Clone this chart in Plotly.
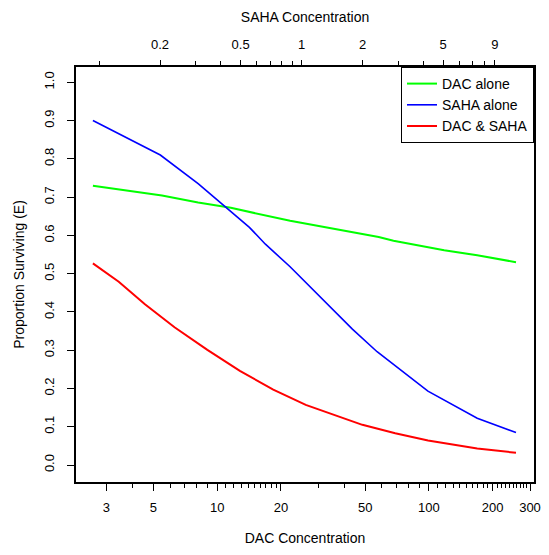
import plotly.graph_objects as go

# Survival curves: proportion surviving vs DAC concentration (log scale)
green_dac = [2.59, 5.49, 8.13, 11.6, 22.1, 57.9, 68.0, 118.0, 169.0, 257.6]
green_surv = [0.730, 0.704, 0.686, 0.672, 0.638, 0.596, 0.586, 0.561, 0.548, 0.530]

blue_dac = [2.59, 5.39, 8.13, 11.2, 14.2, 16.9, 22.1, 43.5, 56.9, 98.9, 169.0, 257.6]
blue_surv = [0.900, 0.810, 0.735, 0.671, 0.621, 0.577, 0.518, 0.355, 0.296, 0.193, 0.122, 0.085]

red_dac = [2.59, 3.43, 4.56, 6.29, 8.99, 12.8, 18.4, 26.2, 48.5, 69.3, 99.0, 169.0, 257.6]
red_surv = [0.527, 0.479, 0.420, 0.360, 0.301, 0.246, 0.197, 0.157, 0.105, 0.083, 0.064, 0.043, 0.032]

series_names = ["DAC alone", "SAHA alone", "DAC & SAHA"]
series_colors = ["#00ff00", "#0000ff", "#ff0000"]
series_widths = [2, 1.6, 2]

# Axis ticks
dac_labels = [3, 5, 10, 20, 50, 100, 200, 300]
dac_minor = [4, 6, 7, 8, 9] + list(range(11, 20)) + [30, 40, 60, 70, 80, 90] \
    + list(range(110, 200, 10)) + list(range(210, 300, 10))
saha_labels = [0.2, 0.5, 1, 2, 5, 9]
saha_minor = [0.1, 0.3, 0.4, 0.6, 0.7, 0.8, 0.9, 3, 4, 6, 7, 8]
surv_ticks = [i / 10 for i in range(11)]

FONT = "Liberation Sans, Arial, sans-serif"

fig = go.Figure()
for xs, ys, name, col, w in zip([green_dac, blue_dac, red_dac],
                                [green_surv, blue_surv, red_surv],
                                series_names, series_colors, series_widths):
    fig.add_trace(go.Scatter(x=xs, y=ys, mode="lines", name=name,
                             line=dict(color=col, width=w)))

fig.update_layout(
    width=549, height=555,
    margin=dict(l=76, r=8, t=67, b=73),
    paper_bgcolor="white", plot_bgcolor="white",
    font=dict(family=FONT, size=13, color="black"),
    showlegend=True,
    legend=dict(x=1, xanchor="right", y=1, yanchor="top",
                bgcolor="white", bordercolor="black", borderwidth=1,
                font=dict(size=14), tracegroupgap=0),
    xaxis=dict(
        type="log", range=[0.3335, 2.496],
        tickmode="array", tickvals=dac_labels,
        ticktext=[str(v) for v in dac_labels],
        ticks="outside", ticklen=7, tickwidth=1, tickcolor="black",
        ticklabelstandoff=5,
        minor=dict(tickmode="array", tickvals=dac_minor, ticks="outside",
                   ticklen=4, tickwidth=1, tickcolor="black", showgrid=False),
        showline=True, linecolor="black", linewidth=2, mirror=True,
        showgrid=False, zeroline=False,
        title=dict(text="DAC Concentration", font=dict(size=14), standoff=20),
    ),
    xaxis2=dict(
        type="log", range=[-1.114, 1.148], overlaying="x", side="top",
        anchor="y",
        tickmode="array", tickvals=saha_labels,
        ticktext=[str(v) for v in saha_labels],
        ticks="outside", ticklen=6, tickwidth=1, tickcolor="black",
        ticklabelstandoff=6,
        minor=dict(tickmode="array", tickvals=saha_minor, ticks="outside",
                   ticklen=5, tickwidth=1, tickcolor="black", showgrid=False),
        showline=False, showgrid=False, zeroline=False,
        title=dict(text="SAHA Concentration", font=dict(size=14), standoff=10),
    ),
    yaxis=dict(
        range=[-0.0444, 1.04],
        tickmode="array", tickvals=surv_ticks,
        ticktext=["%.1f" % v for v in surv_ticks],
        tickangle=-90,
        ticks="outside", ticklen=7, tickwidth=1, tickcolor="black",
        ticklabelstandoff=8,
        showline=True, linecolor="black", linewidth=2, mirror=True,
        showgrid=False, zeroline=False,
        title=dict(text="Proportion Surviving (E)", font=dict(size=14), standoff=14),
    ),
)

# Empty trace so the top SAHA axis is drawn
fig.add_trace(go.Scatter(x=[], y=[], xaxis="x2", yaxis="y", showlegend=False,
                         hoverinfo="skip"))

fig.write_html("out.html")
